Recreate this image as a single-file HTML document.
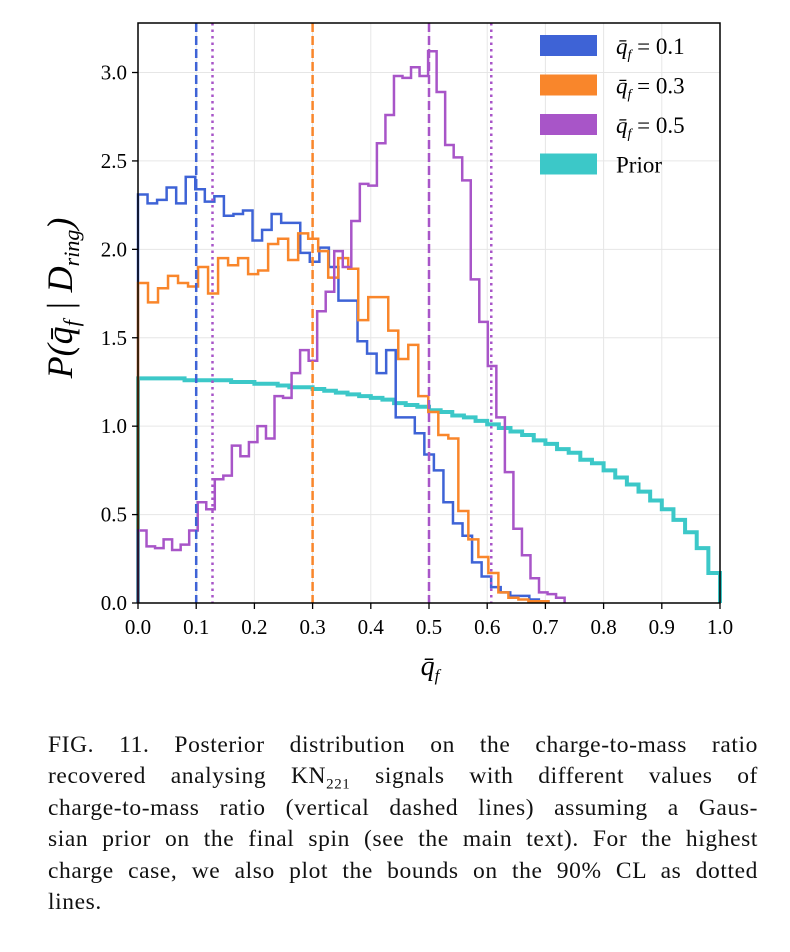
<!DOCTYPE html>
<html><head><meta charset="utf-8"><style>
body{margin:0;background:#fff;width:790px;height:952px;overflow:hidden;font-family:"Liberation Serif",serif;}
#cap{position:absolute;left:48px;top:730px;width:710px;font-size:23.5px;letter-spacing:0.6px;color:#111;}
#cap div{height:31.4px;line-height:31.4px;text-align:justify;text-align-last:justify;white-space:nowrap;}
#cap div.last{text-align-last:left;}
#cap sub{font-size:15px;line-height:0;}
</style></head><body>
<svg id="chart" width="790" height="720" style="position:absolute;left:0;top:0" font-family="Liberation Serif, serif"></svg>
<div id="cap">
<div>FIG. 11. Posterior distribution on the charge-to-mass ratio</div>
<div>recovered analysing KN<sub>221</sub> signals with different values of</div>
<div>charge-to-mass ratio (vertical dashed lines) assuming a Gaus-</div>
<div>sian prior on the final spin (see the main text). For the highest</div>
<div>charge case, we also plot the bounds on the 90% CL as dotted</div>
<div class="last">lines.</div>
</div>
<script>
const xTicks=[0,0.1,0.2,0.3,0.4,0.5,0.6,0.7,0.8,0.9,1.0];
const yTicks=[0,0.5,1.0,1.5,2.0,2.5,3.0];
const blueVals=[2.31,2.26,2.28,2.35,2.26,2.41,2.34,2.27,2.30,2.19,2.20,2.22,2.05,2.11,2.20,2.15,2.15,1.98,1.93,2.01,1.90,1.71,1.71,1.48,1.41,1.30,1.43,1.05,1.05,0.96,0.84,0.75,0.57,0.45,0.38,0.23,0.15,0.09,0.06,0.04,0.04,0.02,0.01];
const blueBin=0.0164;
const orangeVals=[1.81,1.70,1.78,1.85,1.81,1.79,1.90,1.75,1.95,1.91,1.95,1.86,1.88,2.03,2.06,1.94,2.09,2.06,1.99,1.84,1.95,1.89,1.60,1.73,1.73,1.54,1.38,1.46,1.17,1.08,0.95,0.93,0.52,0.36,0.26,0.17,0.06,0.03,0.02,0.01,0.01];
const orangeBin=0.0172;
const purpleVals=[0.41,0.32,0.31,0.36,0.30,0.33,0.41,0.57,0.53,0.70,0.72,0.89,0.83,0.91,1.00,0.93,1.17,1.16,1.30,1.43,1.37,1.65,1.76,1.99,1.90,2.16,2.37,2.36,2.60,2.76,2.98,2.97,3.03,2.98,3.12,2.89,2.59,2.52,2.39,1.83,1.59,1.34,1.05,0.74,0.42,0.27,0.14,0.06,0.05,0.03];
const purpleBin=0.01466;
const priorVals=[1.27,1.27,1.27,1.27,1.26,1.26,1.26,1.26,1.25,1.25,1.24,1.24,1.23,1.22,1.22,1.21,1.20,1.19,1.18,1.17,1.16,1.15,1.13,1.12,1.11,1.09,1.08,1.06,1.05,1.03,1.01,0.99,0.97,0.95,0.92,0.90,0.87,0.85,0.81,0.79,0.75,0.71,0.67,0.63,0.58,0.53,0.47,0.40,0.31,0.17];
const priorBin=0.02;
const dashedLines=[0.1,0.3,0.5];
const dottedLines=[0.128,0.607];
const legendLabels=["0.1","0.3","0.5","Prior"];

const NS="http://www.w3.org/2000/svg";
const svg=document.getElementById('chart');
const L=138,R=720,T=23,B=603,YMAX=3.28;
const sx=v=>L+v*(R-L);
const sy=v=>B-v*(B-T)/YMAX;
function mk(tag,attrs,parent){const e=document.createElementNS(NS,tag);for(const k in attrs)e.setAttribute(k,attrs[k]);(parent||svg).appendChild(e);return e;}
xTicks.forEach(t=>{const g=mk('line',{x1:sx(t),x2:sx(t),y1:T,y2:B,stroke:'#e6e6e6','stroke-width':1});

});
yTicks.forEach(t=>{const g=mk('line',{x1:L,x2:R,y1:sy(t),y2:sy(t),stroke:'#e6e6e6','stroke-width':1});

});
function hist(vals,bw,color,name,w){
  let d='M'+sx(0)+','+sy(0);
  vals.forEach((v,i)=>{d+=' L'+sx(i*bw)+','+sy(v)+' L'+sx((i+1)*bw)+','+sy(v);});
  d+=' L'+sx(vals.length*bw)+','+sy(0);
  const p=mk('path',{d:d,fill:'none',stroke:color,'stroke-width':w,'stroke-linejoin':'miter'});
  
  
}
hist(priorVals,priorBin,'#3cc8c8','prior-histogram',4);
hist(blueVals,blueBin,'#3e63d6','histogram-q01',2.5);
hist(orangeVals,orangeBin,'#f9862b','histogram-q03',2.5);
hist(purpleVals,purpleBin,'#a855c8','histogram-q05',2.5);
const dcol=['#3e63d6','#f9862b','#a855c8'];
dashedLines.forEach((v,i)=>{const l=mk('line',{x1:sx(v),x2:sx(v),y1:T,y2:B,stroke:dcol[i],'stroke-width':2.5,'stroke-dasharray':'9,4'});

});
dottedLines.forEach(v=>{const l=mk('line',{x1:sx(v),x2:sx(v),y1:T,y2:B,stroke:'#a855c8','stroke-width':2.5,'stroke-dasharray':'2.5,4'});

});
const fr=mk('rect',{x:L,y:T,width:R-L,height:B-T,fill:'none',stroke:'#000','stroke-width':1.5});


xTicks.forEach(t=>{mk('line',{x1:sx(t),x2:sx(t),y1:B,y2:B+6,stroke:'#000','stroke-width':1.3});
const tx=mk('text',{x:sx(t),y:B+31,'text-anchor':'middle','font-size':21});tx.textContent=t.toFixed(1);

});
yTicks.forEach(t=>{mk('line',{x1:L-6,x2:L,y1:sy(t),y2:sy(t),stroke:'#000','stroke-width':1.3});
const tx=mk('text',{x:L-11,y:sy(t)+7,'text-anchor':'end','font-size':21});tx.textContent=t.toFixed(1);

});
const xt=mk('text',{x:430,y:675,'text-anchor':'middle','font-size':28,'font-style':'italic'});
xt.innerHTML='q̄<tspan font-size="17" dy="6">f</tspan>';


const yt=mk('text',{x:0,y:0,'text-anchor':'middle','font-size':36,'font-style':'italic',transform:'translate(72,298) rotate(-90)'});
yt.innerHTML='P(q̄<tspan font-size="22" dy="7">f</tspan><tspan dy="-7"> | D</tspan><tspan font-size="22" dy="7">ring</tspan><tspan dy="-7">)</tspan>';


const lcol=['#3e63d6','#f9862b','#a855c8','#3cc8c8'];
legendLabels.forEach((lab,i)=>{const cy=45+i*39.5;
const g=mk('g',{});


mk('rect',{x:540,y:cy-10,width:57,height:21,fill:lcol[i]},g);
const t=mk('text',{x:616,y:cy+9,'font-size':23},g);
if(lab==='Prior'){t.textContent='Prior';}else{t.innerHTML='<tspan font-style="italic">q̄</tspan><tspan font-style="italic" font-size="14" dy="5">f</tspan><tspan dy="-5"> = '+lab+'</tspan>';}
});
</script>
</body></html>
